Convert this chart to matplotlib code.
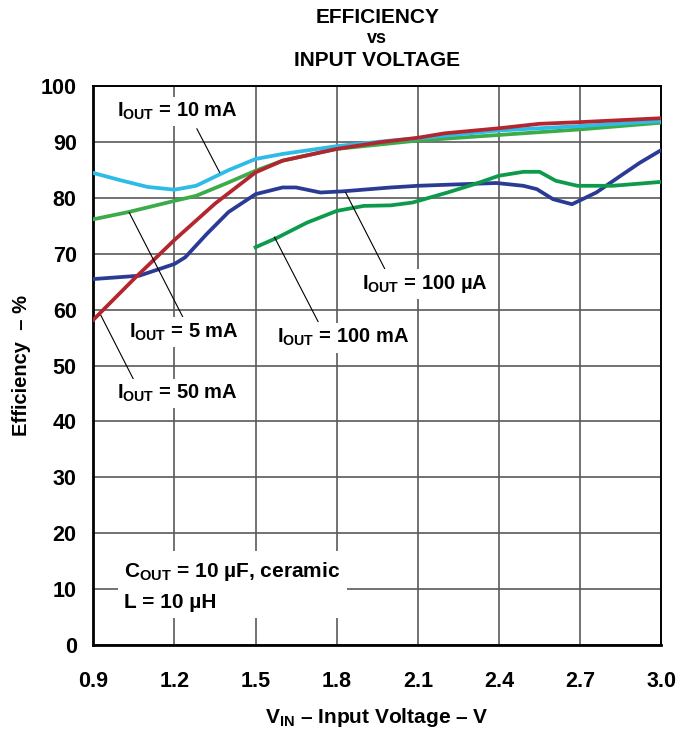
import matplotlib
matplotlib.use("Agg")
import matplotlib.pyplot as plt

plt.rcParams["font.family"] = ["Liberation Sans", "DejaVu Sans"]
plt.rcParams["font.weight"] = "bold"
plt.rcParams["mathtext.fontset"] = "custom"
plt.rcParams["mathtext.rm"] = "Liberation Sans:bold"
plt.rcParams["mathtext.bf"] = "Liberation Sans:bold"
plt.rcParams["mathtext.it"] = "Liberation Sans:bold"

# curvas
v_10ma = [0.9, 1.0, 1.1, 1.2, 1.28, 1.4, 1.5, 1.6, 1.8, 2.0, 2.1, 2.4, 2.7, 3.0]
ef_10ma = [84.5, 83.2, 82.0, 81.5, 82.2, 85.0, 87.0, 87.9, 89.3, 90.3, 90.7, 92.1, 92.9, 93.8]

v_5ma = [0.9, 1.03, 1.2, 1.28, 1.4, 1.5, 1.6, 1.8, 2.1, 2.4, 2.7, 3.0]
ef_5ma = [76.2, 77.5, 79.5, 80.4, 82.8, 84.9, 86.7, 88.8, 90.3, 91.3, 92.3, 93.5]

v_50ma = [0.9, 1.05, 1.2, 1.35, 1.5, 1.6, 1.8, 1.96, 2.1, 2.2, 2.4, 2.55, 2.7, 3.0]
ef_50ma = [58.2, 65.5, 72.5, 79.0, 84.6, 86.7, 88.8, 90.0, 90.8, 91.6, 92.5, 93.3, 93.6, 94.3]

v_100ua = [0.9, 1.07, 1.2, 1.24, 1.32, 1.4, 1.5, 1.6, 1.65, 1.74, 1.82, 2.0, 2.1,
           2.39, 2.49, 2.54, 2.6, 2.67, 2.76, 2.85, 2.92, 3.0]
ef_100ua = [65.5, 66.1, 68.2, 69.4, 73.6, 77.5, 80.7, 81.9, 81.9, 81.0, 81.2, 81.9, 82.2,
            82.7, 82.2, 81.6, 79.8, 78.9, 81.0, 84.0, 86.3, 88.6]

v_100ma = [1.5, 1.58, 1.69, 1.8, 1.9, 2.0, 2.08, 2.21, 2.31, 2.4, 2.49, 2.55, 2.61, 2.69, 2.82, 3.0]
ef_100ma = [71.2, 72.9, 75.6, 77.7, 78.6, 78.7, 79.2, 81.0, 82.5, 84.0, 84.7, 84.7, 83.1, 82.2, 82.2, 82.9]

x_ticks = [0.9, 1.2, 1.5, 1.8, 2.1, 2.4, 2.7, 3.0]
y_ticks = list(range(0, 101, 10))

# etiquetas: texto, posición del texto, línea guía (inicio, fin)
etiquetas = [
    (r"$\mathbf{I_{OUT}}$ = 10 mA", (1.21, 95.5), (1.283, 92.4), (1.367, 84.6)),
    (r"$\mathbf{I_{OUT}}$ = 5 mA", (1.233, 56.0), (1.033, 77.4), (1.231, 58.7)),
    (r"$\mathbf{I_{OUT}}$ = 50 mA", (1.211, 45.0), (0.928, 59.0), (1.048, 47.6)),
    (r"$\mathbf{I_{OUT}}$ = 100 mA", (1.822, 55.0), (1.570, 73.0), (1.731, 57.9)),
    (r"$\mathbf{I_{OUT}}$ = 100 µA", (2.126, 64.6), (1.833, 81.0), (1.978, 67.3)),
]

fig = plt.figure(figsize=(6.81, 7.32), dpi=100)
ax = fig.add_axes([0.137, 0.119, 0.834, 0.763])

ax.plot(v_5ma, ef_5ma, color="#3cab4a", lw=2.7, zorder=3)
ax.plot(v_10ma, ef_10ma, color="#2dbbe8", lw=2.7, zorder=3)
ax.plot(v_100ua, ef_100ua, color="#2b3a94", lw=2.7, zorder=3)
ax.plot(v_100ma, ef_100ma, color="#0e9a4c", lw=2.7, zorder=3)
ax.plot(v_50ma, ef_50ma, color="#b3262f", lw=2.7, zorder=4)

for texto, pos, p0, p1 in etiquetas:
    ax.plot([p0[0], p1[0]], [p0[1], p1[1]], color="black", lw=0.8, zorder=5)
    ax.text(pos[0], pos[1], texto, ha="center", va="center", fontsize=14.5,
            fontweight="bold", zorder=6,
            bbox=dict(facecolor="white", edgecolor="none", pad=3))

ax.text(1.015, 10.6, "C$\\mathbf{_{OUT}}$ = 10 µF, ceramic\nL = 10 µH", ha="left", va="center",
        fontsize=15, fontweight="bold", linespacing=1.65, zorder=6,
        bbox=dict(facecolor="white", edgecolor="none", pad=5))

ax.set_xlim(0.9, 3.0)
ax.set_ylim(0, 100)
ax.set_xticks(x_ticks)
ax.set_xticklabels([f"{t:.1f}" for t in x_ticks])
ax.set_yticks(y_ticks)
ax.grid(True, color="#5a5a5a", lw=1.2, zorder=1)
ax.set_axisbelow(True)
ax.tick_params(length=0, labelsize=15.5, pad=12)
ax.tick_params(axis="x", pad=19)
for lab in ax.get_xticklabels() + ax.get_yticklabels():
    lab.set_fontweight("bold")

for lado in ["left", "bottom"]:
    ax.spines[lado].set_linewidth(2.0)
for lado in ["top", "right"]:
    ax.spines[lado].set_linewidth(1.4)

ax.set_xlabel(r"$\mathbf{V_{IN}}$ – Input Voltage – V", fontsize=15, fontweight="bold", labelpad=10)
ax.set_ylabel("Efficiency  – %", fontsize=14.5, fontweight="bold", labelpad=7)

cx = 0.554
fig.text(cx, 0.976, "EFFICIENCY", ha="center", va="center", fontsize=15, fontweight="bold")
fig.text(cx, 0.948, "vs", ha="center", va="center", fontsize=13, fontweight="bold")
fig.text(cx, 0.918, "INPUT VOLTAGE", ha="center", va="center", fontsize=15, fontweight="bold")

fig.savefig("out.png", dpi=100)
